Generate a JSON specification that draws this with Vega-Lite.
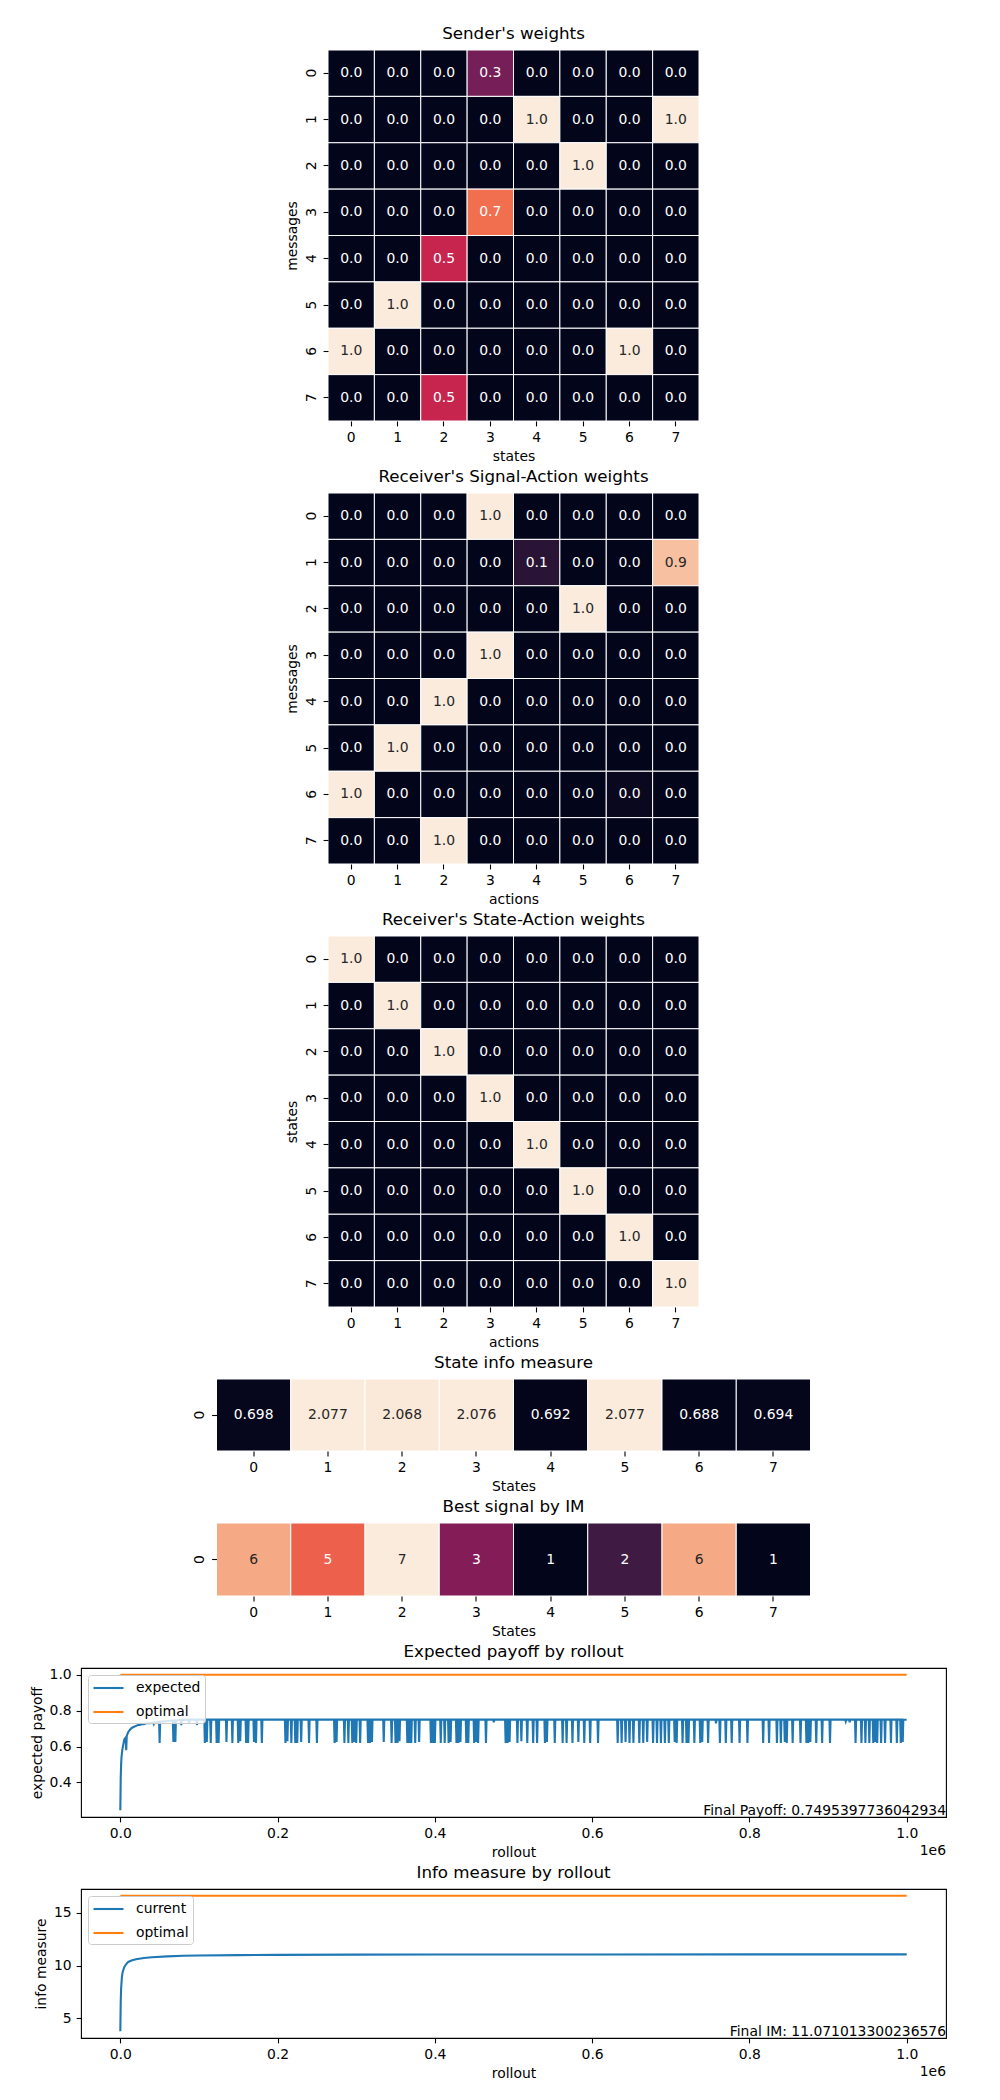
{
  "$schema": "https://vega.github.io/schema/vega-lite/v6.json",
  "autosize": {"type": "pad"},
  "padding": {"left": 29, "top": 25, "right": 5, "bottom": 5},
  "background": "white",
  "bounds": "flush",
  "center": true,
  "spacing": 72,
  "resolve": {"scale": {"color": "independent", "x": "independent", "y": "independent"}, "legend": {"color": "independent"}},
  "config": {
    "font": "DejaVu Sans",
    "view": {"stroke": null},
    "axis": {"labelFont": "DejaVu Sans", "titleFont": "DejaVu Sans", "labelFontSize": 13.9, "titleFontSize": 13.9, "titleFontWeight": "normal", "labelColor": "#000", "titleColor": "#000", "tickColor": "#000", "tickSize": 4.9, "tickWidth": 1.1, "labelPadding": 4.9, "titlePadding": 5, "domain": false, "grid": false},
    "title": {"font": "DejaVu Sans", "fontSize": 16.7, "fontWeight": "normal", "color": "#000", "offset": 7, "anchor": "middle", "frame": "group"},
    "legend": {"labelFont": "DejaVu Sans", "labelFontSize": 13.9, "labelColor": "#000"}
  },
  "datasets": {
    "sender": [
      {"m":0,"s":0,"v":0},{"m":0,"s":1,"v":0},{"m":0,"s":2,"v":0},{"m":0,"s":3,"v":0.3},{"m":0,"s":4,"v":0},{"m":0,"s":5,"v":0},{"m":0,"s":6,"v":0},{"m":0,"s":7,"v":0},
      {"m":1,"s":0,"v":0},{"m":1,"s":1,"v":0},{"m":1,"s":2,"v":0},{"m":1,"s":3,"v":0},{"m":1,"s":4,"v":1},{"m":1,"s":5,"v":0},{"m":1,"s":6,"v":0},{"m":1,"s":7,"v":1},
      {"m":2,"s":0,"v":0},{"m":2,"s":1,"v":0},{"m":2,"s":2,"v":0},{"m":2,"s":3,"v":0},{"m":2,"s":4,"v":0},{"m":2,"s":5,"v":1},{"m":2,"s":6,"v":0},{"m":2,"s":7,"v":0},
      {"m":3,"s":0,"v":0},{"m":3,"s":1,"v":0},{"m":3,"s":2,"v":0},{"m":3,"s":3,"v":0.7},{"m":3,"s":4,"v":0},{"m":3,"s":5,"v":0},{"m":3,"s":6,"v":0},{"m":3,"s":7,"v":0},
      {"m":4,"s":0,"v":0},{"m":4,"s":1,"v":0},{"m":4,"s":2,"v":0.5},{"m":4,"s":3,"v":0},{"m":4,"s":4,"v":0},{"m":4,"s":5,"v":0},{"m":4,"s":6,"v":0},{"m":4,"s":7,"v":0},
      {"m":5,"s":0,"v":0},{"m":5,"s":1,"v":1},{"m":5,"s":2,"v":0},{"m":5,"s":3,"v":0},{"m":5,"s":4,"v":0},{"m":5,"s":5,"v":0},{"m":5,"s":6,"v":0},{"m":5,"s":7,"v":0},
      {"m":6,"s":0,"v":1},{"m":6,"s":1,"v":0},{"m":6,"s":2,"v":0},{"m":6,"s":3,"v":0},{"m":6,"s":4,"v":0},{"m":6,"s":5,"v":0},{"m":6,"s":6,"v":1},{"m":6,"s":7,"v":0},
      {"m":7,"s":0,"v":0},{"m":7,"s":1,"v":0},{"m":7,"s":2,"v":0.5},{"m":7,"s":3,"v":0},{"m":7,"s":4,"v":0},{"m":7,"s":5,"v":0},{"m":7,"s":6,"v":0},{"m":7,"s":7,"v":0}
    ],
    "sigact": [
      {"m":0,"a":0,"v":0},{"m":0,"a":1,"v":0},{"m":0,"a":2,"v":0},{"m":0,"a":3,"v":1},{"m":0,"a":4,"v":0},{"m":0,"a":5,"v":0},{"m":0,"a":6,"v":0},{"m":0,"a":7,"v":0},
      {"m":1,"a":0,"v":0},{"m":1,"a":1,"v":0},{"m":1,"a":2,"v":0},{"m":1,"a":3,"v":0},{"m":1,"a":4,"v":0.11},{"m":1,"a":5,"v":0},{"m":1,"a":6,"v":0},{"m":1,"a":7,"v":0.89},
      {"m":2,"a":0,"v":0},{"m":2,"a":1,"v":0},{"m":2,"a":2,"v":0},{"m":2,"a":3,"v":0},{"m":2,"a":4,"v":0},{"m":2,"a":5,"v":1},{"m":2,"a":6,"v":0},{"m":2,"a":7,"v":0},
      {"m":3,"a":0,"v":0},{"m":3,"a":1,"v":0},{"m":3,"a":2,"v":0},{"m":3,"a":3,"v":1},{"m":3,"a":4,"v":0},{"m":3,"a":5,"v":0},{"m":3,"a":6,"v":0},{"m":3,"a":7,"v":0},
      {"m":4,"a":0,"v":0},{"m":4,"a":1,"v":0},{"m":4,"a":2,"v":1},{"m":4,"a":3,"v":0},{"m":4,"a":4,"v":0},{"m":4,"a":5,"v":0},{"m":4,"a":6,"v":0},{"m":4,"a":7,"v":0},
      {"m":5,"a":0,"v":0},{"m":5,"a":1,"v":1},{"m":5,"a":2,"v":0},{"m":5,"a":3,"v":0},{"m":5,"a":4,"v":0},{"m":5,"a":5,"v":0},{"m":5,"a":6,"v":0},{"m":5,"a":7,"v":0},
      {"m":6,"a":0,"v":1},{"m":6,"a":1,"v":0},{"m":6,"a":2,"v":0},{"m":6,"a":3,"v":0},{"m":6,"a":4,"v":0},{"m":6,"a":5,"v":0},{"m":6,"a":6,"v":0.02},{"m":6,"a":7,"v":0},
      {"m":7,"a":0,"v":0},{"m":7,"a":1,"v":0},{"m":7,"a":2,"v":1},{"m":7,"a":3,"v":0},{"m":7,"a":4,"v":0},{"m":7,"a":5,"v":0},{"m":7,"a":6,"v":0},{"m":7,"a":7,"v":0}
    ],
    "stact": [
      {"st":0,"a":0,"v":1},{"st":0,"a":1,"v":0},{"st":0,"a":2,"v":0},{"st":0,"a":3,"v":0},{"st":0,"a":4,"v":0},{"st":0,"a":5,"v":0},{"st":0,"a":6,"v":0},{"st":0,"a":7,"v":0},
      {"st":1,"a":0,"v":0},{"st":1,"a":1,"v":1},{"st":1,"a":2,"v":0},{"st":1,"a":3,"v":0},{"st":1,"a":4,"v":0},{"st":1,"a":5,"v":0},{"st":1,"a":6,"v":0},{"st":1,"a":7,"v":0},
      {"st":2,"a":0,"v":0},{"st":2,"a":1,"v":0},{"st":2,"a":2,"v":1},{"st":2,"a":3,"v":0},{"st":2,"a":4,"v":0},{"st":2,"a":5,"v":0},{"st":2,"a":6,"v":0},{"st":2,"a":7,"v":0},
      {"st":3,"a":0,"v":0},{"st":3,"a":1,"v":0},{"st":3,"a":2,"v":0},{"st":3,"a":3,"v":1},{"st":3,"a":4,"v":0},{"st":3,"a":5,"v":0},{"st":3,"a":6,"v":0},{"st":3,"a":7,"v":0},
      {"st":4,"a":0,"v":0},{"st":4,"a":1,"v":0},{"st":4,"a":2,"v":0},{"st":4,"a":3,"v":0},{"st":4,"a":4,"v":1},{"st":4,"a":5,"v":0},{"st":4,"a":6,"v":0},{"st":4,"a":7,"v":0},
      {"st":5,"a":0,"v":0},{"st":5,"a":1,"v":0},{"st":5,"a":2,"v":0},{"st":5,"a":3,"v":0},{"st":5,"a":4,"v":0},{"st":5,"a":5,"v":1},{"st":5,"a":6,"v":0},{"st":5,"a":7,"v":0},
      {"st":6,"a":0,"v":0},{"st":6,"a":1,"v":0},{"st":6,"a":2,"v":0},{"st":6,"a":3,"v":0},{"st":6,"a":4,"v":0},{"st":6,"a":5,"v":0},{"st":6,"a":6,"v":1},{"st":6,"a":7,"v":0},
      {"st":7,"a":0,"v":0},{"st":7,"a":1,"v":0},{"st":7,"a":2,"v":0},{"st":7,"a":3,"v":0},{"st":7,"a":4,"v":0},{"st":7,"a":5,"v":0},{"st":7,"a":6,"v":0},{"st":7,"a":7,"v":1}
    ],
    "stateinfo": [
      {"row":0,"state":0,"v":0.698},{"row":0,"state":1,"v":2.077},{"row":0,"state":2,"v":2.068},{"row":0,"state":3,"v":2.076},
      {"row":0,"state":4,"v":0.692},{"row":0,"state":5,"v":2.077},{"row":0,"state":6,"v":0.688},{"row":0,"state":7,"v":0.694}
    ],
    "bestsig": [
      {"row":0,"state":0,"v":6},{"row":0,"state":1,"v":5},{"row":0,"state":2,"v":7},{"row":0,"state":3,"v":3},
      {"row":0,"state":4,"v":1},{"row":0,"state":5,"v":2},{"row":0,"state":6,"v":6},{"row":0,"state":7,"v":1}
    ],
    "payoff": [
      {"r":0,"p":0.245},{"r":500,"p":0.42},{"r":1000,"p":0.5},{"r":1500,"p":0.54},{"r":2000,"p":0.56},{"r":2500,"p":0.58},{"r":5000,"p":0.64},{"r":6800,"p":0.65},{"r":7500,"p":0.58},{"r":8200,"p":0.66},{"r":10000,"p":0.68},{"r":12500,"p":0.695},{"r":15000,"p":0.705},{"r":17500,"p":0.71},{"r":20000,"p":0.715},{"r":22500,"p":0.72},{"r":25000,"p":0.72},{"r":27500,"p":0.725},{"r":30000,"p":0.725},{"r":32500,"p":0.73},{"r":35000,"p":0.73},{"r":37500,"p":0.73},{"r":40000,"p":0.732},{"r":41800,"p":0.732},{"r":42500,"p":0.725},{"r":43200,"p":0.733},{"r":45000,"p":0.735},{"r":47500,"p":0.738},{"r":49300,"p":0.739},{"r":50000,"p":0.62},{"r":50700,"p":0.74},{"r":55000,"p":0.74},{"r":60000,"p":0.742},{"r":65000,"p":0.745},{"r":66800,"p":0.745},{"r":67500,"p":0.625},{"r":68200,"p":0.745},{"r":69300,"p":0.745},{"r":70000,"p":0.625},{"r":70700,"p":0.745},{"r":75000,"p":0.748},{"r":76800,"p":0.748},{"r":77500,"p":0.72},{"r":78200,"p":0.748},{"r":85000,"p":0.75},{"r":86800,"p":0.75},{"r":87500,"p":0.73},{"r":88200,"p":0.75},{"r":96800,"p":0.75},{"r":97500,"p":0.72},{"r":98200,"p":0.75},
      {"r":106800,"p":0.75},{"r":107500,"p":0.62},{"r":108200,"p":0.75},
      {"r":109300,"p":0.75},{"r":110000,"p":0.625},{"r":110700,"p":0.75},
      {"r":114300,"p":0.75},{"r":115000,"p":0.62},{"r":115700,"p":0.75},
      {"r":121800,"p":0.75},{"r":122500,"p":0.62},{"r":123200,"p":0.75},
      {"r":124300,"p":0.75},{"r":125000,"p":0.62},{"r":125700,"p":0.75},
      {"r":134300,"p":0.75},{"r":135000,"p":0.625},{"r":135700,"p":0.75},
      {"r":141800,"p":0.75},{"r":142500,"p":0.62},{"r":143200,"p":0.75},
      {"r":149300,"p":0.75},{"r":150000,"p":0.62},{"r":150700,"p":0.75},
      {"r":151800,"p":0.75},{"r":152500,"p":0.63},{"r":153200,"p":0.75},
      {"r":159300,"p":0.75},{"r":160000,"p":0.62},{"r":160700,"p":0.75},
      {"r":161800,"p":0.75},{"r":162500,"p":0.62},{"r":163200,"p":0.75},
      {"r":169300,"p":0.75},{"r":170000,"p":0.625},{"r":170700,"p":0.75},
      {"r":171800,"p":0.75},{"r":172500,"p":0.62},{"r":173200,"p":0.75},
      {"r":179300,"p":0.75},{"r":180000,"p":0.62},{"r":180700,"p":0.75},
      {"r":209300,"p":0.75},{"r":210000,"p":0.62},{"r":210700,"p":0.75},
      {"r":211800,"p":0.75},{"r":212500,"p":0.63},{"r":213200,"p":0.75},
      {"r":216800,"p":0.75},{"r":217500,"p":0.62},{"r":218200,"p":0.75},
      {"r":221800,"p":0.75},{"r":222500,"p":0.62},{"r":223200,"p":0.75},
      {"r":224300,"p":0.75},{"r":225000,"p":0.62},{"r":225700,"p":0.75},
      {"r":229300,"p":0.75},{"r":230000,"p":0.625},{"r":230700,"p":0.75},
      {"r":239300,"p":0.75},{"r":240000,"p":0.62},{"r":240700,"p":0.75},
      {"r":249300,"p":0.75},{"r":250000,"p":0.62},{"r":250700,"p":0.75},
      {"r":271800,"p":0.75},{"r":272500,"p":0.62},{"r":273200,"p":0.75},
      {"r":274300,"p":0.75},{"r":275000,"p":0.625},{"r":275700,"p":0.75},
      {"r":284300,"p":0.75},{"r":285000,"p":0.62},{"r":285700,"p":0.75},
      {"r":289300,"p":0.75},{"r":290000,"p":0.62},{"r":290700,"p":0.75},
      {"r":294300,"p":0.75},{"r":295000,"p":0.62},{"r":295700,"p":0.75},
      {"r":296800,"p":0.75},{"r":297500,"p":0.625},{"r":298200,"p":0.75},
      {"r":299300,"p":0.75},{"r":300000,"p":0.62},{"r":300700,"p":0.75},
      {"r":304300,"p":0.75},{"r":305000,"p":0.62},{"r":305700,"p":0.75},
      {"r":314300,"p":0.75},{"r":315000,"p":0.62},{"r":315700,"p":0.75},
      {"r":316800,"p":0.75},{"r":317500,"p":0.62},{"r":318200,"p":0.75},
      {"r":319300,"p":0.75},{"r":320000,"p":0.625},{"r":320700,"p":0.75},
      {"r":334300,"p":0.75},{"r":335000,"p":0.625},{"r":335700,"p":0.75},
      {"r":344300,"p":0.75},{"r":345000,"p":0.62},{"r":345700,"p":0.75},
      {"r":349300,"p":0.75},{"r":350000,"p":0.62},{"r":350700,"p":0.75},
      {"r":351800,"p":0.75},{"r":352500,"p":0.62},{"r":353200,"p":0.75},
      {"r":354300,"p":0.75},{"r":355000,"p":0.63},{"r":355700,"p":0.75},
      {"r":364300,"p":0.75},{"r":365000,"p":0.62},{"r":365700,"p":0.75},
      {"r":366800,"p":0.75},{"r":367500,"p":0.62},{"r":368200,"p":0.75},
      {"r":369300,"p":0.75},{"r":370000,"p":0.62},{"r":370700,"p":0.75},
      {"r":374300,"p":0.75},{"r":375000,"p":0.62},{"r":375700,"p":0.75},
      {"r":379300,"p":0.75},{"r":380000,"p":0.625},{"r":380700,"p":0.75},
      {"r":394300,"p":0.75},{"r":395000,"p":0.62},{"r":395700,"p":0.75},
      {"r":396800,"p":0.75},{"r":397500,"p":0.62},{"r":398200,"p":0.75},
      {"r":399300,"p":0.75},{"r":400000,"p":0.62},{"r":400700,"p":0.75},
      {"r":406800,"p":0.75},{"r":407500,"p":0.62},{"r":408200,"p":0.75},
      {"r":411800,"p":0.75},{"r":412500,"p":0.62},{"r":413200,"p":0.75},
      {"r":416800,"p":0.75},{"r":417500,"p":0.62},{"r":418200,"p":0.75},
      {"r":419300,"p":0.75},{"r":420000,"p":0.625},{"r":420700,"p":0.75},
      {"r":426800,"p":0.75},{"r":427500,"p":0.62},{"r":428200,"p":0.75},
      {"r":429300,"p":0.75},{"r":430000,"p":0.62},{"r":430700,"p":0.75},
      {"r":431800,"p":0.75},{"r":432500,"p":0.625},{"r":433200,"p":0.75},
      {"r":439300,"p":0.75},{"r":440000,"p":0.62},{"r":440700,"p":0.75},
      {"r":441800,"p":0.75},{"r":442500,"p":0.62},{"r":443200,"p":0.75},
      {"r":449300,"p":0.75},{"r":450000,"p":0.62},{"r":450700,"p":0.75},
      {"r":451800,"p":0.75},{"r":452500,"p":0.625},{"r":453200,"p":0.75},
      {"r":454300,"p":0.75},{"r":455000,"p":0.62},{"r":455700,"p":0.75},
      {"r":464300,"p":0.75},{"r":465000,"p":0.62},{"r":465700,"p":0.75},
      {"r":474300,"p":0.75},{"r":475000,"p":0.735},{"r":475700,"p":0.75},
      {"r":489300,"p":0.75},{"r":490000,"p":0.62},{"r":490700,"p":0.75},
      {"r":491800,"p":0.75},{"r":492500,"p":0.62},{"r":493200,"p":0.75},
      {"r":494300,"p":0.75},{"r":495000,"p":0.625},{"r":495700,"p":0.75},
      {"r":504300,"p":0.75},{"r":505000,"p":0.62},{"r":505700,"p":0.75},
      {"r":509300,"p":0.75},{"r":510000,"p":0.63},{"r":510700,"p":0.75},
      {"r":516800,"p":0.75},{"r":517500,"p":0.62},{"r":518200,"p":0.75},
      {"r":524300,"p":0.75},{"r":525000,"p":0.62},{"r":525700,"p":0.75},
      {"r":529300,"p":0.75},{"r":530000,"p":0.62},{"r":530700,"p":0.75},
      {"r":539300,"p":0.75},{"r":540000,"p":0.62},{"r":540700,"p":0.75},
      {"r":541800,"p":0.75},{"r":542500,"p":0.625},{"r":543200,"p":0.75},
      {"r":551800,"p":0.75},{"r":552500,"p":0.62},{"r":553200,"p":0.75},
      {"r":561800,"p":0.75},{"r":562500,"p":0.62},{"r":563200,"p":0.75},
      {"r":566800,"p":0.75},{"r":567500,"p":0.62},{"r":568200,"p":0.75},
      {"r":574300,"p":0.75},{"r":575000,"p":0.62},{"r":575700,"p":0.75},
      {"r":581800,"p":0.75},{"r":582500,"p":0.625},{"r":583200,"p":0.75},
      {"r":589300,"p":0.75},{"r":590000,"p":0.62},{"r":590700,"p":0.75},
      {"r":596800,"p":0.75},{"r":597500,"p":0.62},{"r":598200,"p":0.75},
      {"r":606800,"p":0.75},{"r":607500,"p":0.62},{"r":608200,"p":0.75},
      {"r":631800,"p":0.75},{"r":632500,"p":0.62},{"r":633200,"p":0.75},
      {"r":636800,"p":0.75},{"r":637500,"p":0.62},{"r":638200,"p":0.75},
      {"r":641800,"p":0.75},{"r":642500,"p":0.625},{"r":643200,"p":0.75},
      {"r":646800,"p":0.75},{"r":647500,"p":0.62},{"r":648200,"p":0.75},
      {"r":651800,"p":0.75},{"r":652500,"p":0.62},{"r":653200,"p":0.75},
      {"r":659300,"p":0.75},{"r":660000,"p":0.62},{"r":660700,"p":0.75},
      {"r":664300,"p":0.75},{"r":665000,"p":0.62},{"r":665700,"p":0.75},
      {"r":669300,"p":0.75},{"r":670000,"p":0.625},{"r":670700,"p":0.75},
      {"r":676800,"p":0.75},{"r":677500,"p":0.62},{"r":678200,"p":0.75},
      {"r":681800,"p":0.75},{"r":682500,"p":0.62},{"r":683200,"p":0.75},
      {"r":686800,"p":0.75},{"r":687500,"p":0.62},{"r":688200,"p":0.75},
      {"r":691800,"p":0.75},{"r":692500,"p":0.62},{"r":693200,"p":0.75},
      {"r":696800,"p":0.75},{"r":697500,"p":0.62},{"r":698200,"p":0.75},
      {"r":704300,"p":0.75},{"r":705000,"p":0.625},{"r":705700,"p":0.75},
      {"r":706800,"p":0.75},{"r":707500,"p":0.62},{"r":708200,"p":0.75},
      {"r":714300,"p":0.75},{"r":715000,"p":0.62},{"r":715700,"p":0.75},
      {"r":719300,"p":0.75},{"r":720000,"p":0.62},{"r":720700,"p":0.75},
      {"r":721800,"p":0.75},{"r":722500,"p":0.62},{"r":723200,"p":0.75},
      {"r":729300,"p":0.75},{"r":730000,"p":0.62},{"r":730700,"p":0.75},
      {"r":736800,"p":0.75},{"r":737500,"p":0.62},{"r":738200,"p":0.75},
      {"r":739300,"p":0.75},{"r":740000,"p":0.625},{"r":740700,"p":0.75},
      {"r":746800,"p":0.75},{"r":747500,"p":0.62},{"r":748200,"p":0.75},
      {"r":756800,"p":0.75},{"r":757500,"p":0.73},{"r":758200,"p":0.75},
      {"r":761800,"p":0.75},{"r":762500,"p":0.62},{"r":763200,"p":0.75},
      {"r":769300,"p":0.75},{"r":770000,"p":0.62},{"r":770700,"p":0.75},
      {"r":776800,"p":0.75},{"r":777500,"p":0.62},{"r":778200,"p":0.75},
      {"r":786800,"p":0.75},{"r":787500,"p":0.62},{"r":788200,"p":0.75},
      {"r":796800,"p":0.75},{"r":797500,"p":0.62},{"r":798200,"p":0.75},
      {"r":816800,"p":0.75},{"r":817500,"p":0.62},{"r":818200,"p":0.75},
      {"r":824300,"p":0.75},{"r":825000,"p":0.62},{"r":825700,"p":0.75},
      {"r":834300,"p":0.75},{"r":835000,"p":0.62},{"r":835700,"p":0.75},
      {"r":839300,"p":0.75},{"r":840000,"p":0.62},{"r":840700,"p":0.75},
      {"r":844300,"p":0.75},{"r":845000,"p":0.625},{"r":845700,"p":0.75},
      {"r":846800,"p":0.75},{"r":847500,"p":0.62},{"r":848200,"p":0.75},
      {"r":854300,"p":0.75},{"r":855000,"p":0.62},{"r":855700,"p":0.75},
      {"r":864300,"p":0.75},{"r":865000,"p":0.62},{"r":865700,"p":0.75},
      {"r":871800,"p":0.75},{"r":872500,"p":0.62},{"r":873200,"p":0.75},
      {"r":874300,"p":0.75},{"r":875000,"p":0.62},{"r":875700,"p":0.75},
      {"r":876800,"p":0.75},{"r":877500,"p":0.625},{"r":878200,"p":0.75},
      {"r":884300,"p":0.75},{"r":885000,"p":0.62},{"r":885700,"p":0.75},
      {"r":891800,"p":0.75},{"r":892500,"p":0.62},{"r":893200,"p":0.75},
      {"r":901800,"p":0.75},{"r":902500,"p":0.62},{"r":903200,"p":0.75},
      {"r":921800,"p":0.75},{"r":922500,"p":0.74},{"r":923200,"p":0.75},
      {"r":926800,"p":0.75},{"r":927500,"p":0.735},{"r":928200,"p":0.75},
      {"r":934300,"p":0.75},{"r":935000,"p":0.62},{"r":935700,"p":0.75},
      {"r":941800,"p":0.75},{"r":942500,"p":0.62},{"r":943200,"p":0.75},
      {"r":946800,"p":0.75},{"r":947500,"p":0.62},{"r":948200,"p":0.75},
      {"r":951800,"p":0.75},{"r":952500,"p":0.62},{"r":953200,"p":0.75},
      {"r":956800,"p":0.75},{"r":957500,"p":0.62},{"r":958200,"p":0.75},
      {"r":959300,"p":0.75},{"r":960000,"p":0.625},{"r":960700,"p":0.75},
      {"r":961800,"p":0.75},{"r":962500,"p":0.62},{"r":963200,"p":0.75},
      {"r":966800,"p":0.75},{"r":967500,"p":0.62},{"r":968200,"p":0.75},
      {"r":971800,"p":0.75},{"r":972500,"p":0.62},{"r":973200,"p":0.75},
      {"r":979300,"p":0.75},{"r":980000,"p":0.62},{"r":980700,"p":0.75},
      {"r":986800,"p":0.75},{"r":987500,"p":0.62},{"r":988200,"p":0.75},
      {"r":991800,"p":0.75},{"r":992500,"p":0.62},{"r":993200,"p":0.75},
      {"r":994300,"p":0.75},{"r":995000,"p":0.625},{"r":995700,"p":0.75},
      {"r":1000000,"p":0.7495}
    ],
    "payoffopt": [{"r":0,"p":1.0},{"r":1000000,"p":1.0}],
    "info": [
      {"r":0,"im":3.76},{"r":500,"im":6.5},{"r":1000,"im":7.8},{"r":2000,"im":8.9},{"r":3000,"im":9.4},{"r":5000,"im":9.85},{"r":7500,"im":10.15},{"r":10000,"im":10.35},{"r":15000,"im":10.5},{"r":20000,"im":10.6},{"r":30000,"im":10.72},{"r":40000,"im":10.8},{"r":60000,"im":10.88},{"r":80000,"im":10.93},{"r":100000,"im":10.96},{"r":150000,"im":11.0},{"r":200000,"im":11.02},{"r":300000,"im":11.04},{"r":400000,"im":11.05},{"r":600000,"im":11.06},{"r":800000,"im":11.065},{"r":1000000,"im":11.071}
    ],
    "infoopt": [{"r":0,"im":16.636},{"r":1000000,"im":16.636}]
  },
  "vconcat": [
    {
      "width": 371, "height": 371,
      "title": "Sender's weights",
      "data": {"name": "sender"},
      "encoding": {
        "x": {"field": "s", "type": "ordinal", "title": "states", "scale": {"paddingInner": 0, "paddingOuter": 0}, "axis": {"labelAngle": 0}},
        "y": {"field": "m", "type": "ordinal", "title": "messages", "scale": {"paddingInner": 0, "paddingOuter": 0}, "axis": {"labelAngle": 270, "labelAlign": "center", "labelBaseline": "bottom"}}
      },
      "layer": [
        {"mark": {"type": "rect", "stroke": "white", "strokeWidth": 1},
         "encoding": {"color": {"field": "v", "type": "quantitative", "legend": null,
           "scale": {"domain": [0, 0.1429, 0.2857, 0.4286, 0.5714, 0.7143, 0.8571, 1], "range": ["#03051a","#35193e","#701f57","#ad1759","#e13342","#f37651","#f6b48f","#faebdd"], "interpolate": "rgb"}}}},
        {"mark": {"type": "text", "fontSize": 13.9, "font": "DejaVu Sans"},
         "encoding": {"text": {"field": "v", "type": "quantitative", "format": ".1f"},
           "color": {"condition": {"test": "datum.v > 0.75", "value": "#262626"}, "value": "#ffffff"}}}
      ]
    },
    {
      "width": 371, "height": 371,
      "title": "Receiver's Signal-Action weights",
      "data": {"name": "sigact"},
      "encoding": {
        "x": {"field": "a", "type": "ordinal", "title": "actions", "scale": {"paddingInner": 0, "paddingOuter": 0}, "axis": {"labelAngle": 0}},
        "y": {"field": "m", "type": "ordinal", "title": "messages", "scale": {"paddingInner": 0, "paddingOuter": 0}, "axis": {"labelAngle": 270, "labelAlign": "center", "labelBaseline": "bottom"}}
      },
      "layer": [
        {"mark": {"type": "rect", "stroke": "white", "strokeWidth": 1},
         "encoding": {"color": {"field": "v", "type": "quantitative", "legend": null,
           "scale": {"domain": [0, 0.1429, 0.2857, 0.4286, 0.5714, 0.7143, 0.8571, 1], "range": ["#03051a","#35193e","#701f57","#ad1759","#e13342","#f37651","#f6b48f","#faebdd"], "interpolate": "rgb"}}}},
        {"mark": {"type": "text", "fontSize": 13.9, "font": "DejaVu Sans"},
         "encoding": {"text": {"field": "v", "type": "quantitative", "format": ".1f"},
           "color": {"condition": {"test": "datum.v > 0.75", "value": "#262626"}, "value": "#ffffff"}}}
      ]
    },
    {
      "width": 371, "height": 371,
      "title": "Receiver's State-Action weights",
      "data": {"name": "stact"},
      "encoding": {
        "x": {"field": "a", "type": "ordinal", "title": "actions", "scale": {"paddingInner": 0, "paddingOuter": 0}, "axis": {"labelAngle": 0}},
        "y": {"field": "st", "type": "ordinal", "title": "states", "scale": {"paddingInner": 0, "paddingOuter": 0}, "axis": {"labelAngle": 270, "labelAlign": "center", "labelBaseline": "bottom"}}
      },
      "layer": [
        {"mark": {"type": "rect", "stroke": "white", "strokeWidth": 1},
         "encoding": {"color": {"field": "v", "type": "quantitative", "legend": null,
           "scale": {"domain": [0, 0.1429, 0.2857, 0.4286, 0.5714, 0.7143, 0.8571, 1], "range": ["#03051a","#35193e","#701f57","#ad1759","#e13342","#f37651","#f6b48f","#faebdd"], "interpolate": "rgb"}}}},
        {"mark": {"type": "text", "fontSize": 13.9, "font": "DejaVu Sans"},
         "encoding": {"text": {"field": "v", "type": "quantitative", "format": ".1f"},
           "color": {"condition": {"test": "datum.v > 0.75", "value": "#262626"}, "value": "#ffffff"}}}
      ]
    },
    {
      "width": 594, "height": 72,
      "title": "State info measure",
      "data": {"name": "stateinfo"},
      "encoding": {
        "x": {"field": "state", "type": "ordinal", "title": "States", "scale": {"paddingInner": 0, "paddingOuter": 0}, "axis": {"labelAngle": 0}},
        "y": {"field": "row", "type": "ordinal", "title": null, "scale": {"paddingInner": 0, "paddingOuter": 0}, "axis": {"labelAngle": 270, "labelAlign": "center", "labelBaseline": "bottom"}}
      },
      "layer": [
        {"mark": {"type": "rect", "stroke": "white", "strokeWidth": 1},
         "encoding": {"color": {"field": "v", "type": "quantitative", "legend": null,
           "scale": {"domain": [0.688, 0.8864, 1.0849, 1.2833, 1.4817, 1.6801, 1.8786, 2.077], "range": ["#03051a","#35193e","#701f57","#ad1759","#e13342","#f37651","#f6b48f","#faebdd"], "interpolate": "rgb"}}}},
        {"mark": {"type": "text", "fontSize": 13.9, "font": "DejaVu Sans"},
         "encoding": {"text": {"field": "v", "type": "quantitative", "format": ".3f"},
           "color": {"condition": {"test": "datum.v > 1.8", "value": "#262626"}, "value": "#ffffff"}}}
      ]
    },
    {
      "width": 594, "height": 73,
      "title": "Best signal by IM",
      "data": {"name": "bestsig"},
      "encoding": {
        "x": {"field": "state", "type": "ordinal", "title": "States", "scale": {"paddingInner": 0, "paddingOuter": 0}, "axis": {"labelAngle": 0}},
        "y": {"field": "row", "type": "ordinal", "title": null, "scale": {"paddingInner": 0, "paddingOuter": 0}, "axis": {"labelAngle": 270, "labelAlign": "center", "labelBaseline": "bottom"}}
      },
      "layer": [
        {"mark": {"type": "rect", "stroke": "white", "strokeWidth": 1},
         "encoding": {"color": {"field": "v", "type": "quantitative", "legend": null,
           "scale": {"domain": [1, 1.857, 2.714, 3.571, 4.429, 5.286, 6.143, 7], "range": ["#03051a","#35193e","#701f57","#ad1759","#e13342","#f37651","#f6b48f","#faebdd"], "interpolate": "rgb"}}}},
        {"mark": {"type": "text", "fontSize": 13.9, "font": "DejaVu Sans"},
         "encoding": {"text": {"field": "v", "type": "quantitative", "format": "d"},
           "color": {"condition": {"test": "datum.v >= 5.5", "value": "#262626"}, "value": "#ffffff"}}}
      ]
    },
    {
      "width": 865, "height": 149,
      "title": "Expected payoff by rollout",
      "view": {"stroke": "#000", "strokeWidth": 1.1},
      "layer": [
        {"data": {"name": "payoff"},
         "mark": {"type": "line", "strokeWidth": 2.1},
         "encoding": {
           "x": {"field": "r", "type": "quantitative", "title": "rollout", "scale": {"domain": [-50000, 1050000], "nice": false, "zero": false},
             "axis": {"values": [0, 200000, 400000, 600000, 800000, 1000000], "labelExpr": "format(datum.value / 1000000, '.1f')"}},
           "y": {"field": "p", "type": "quantitative", "title": "expected payoff", "scale": {"domain": [0.207, 1.038], "nice": false, "zero": false},
             "axis": {"values": [0.4, 0.6, 0.8, 1.0], "format": ".1f"}},
           "color": {"datum": "expected", "type": "nominal", "scale": {"domain": ["expected", "optimal"], "range": ["#1f77b4", "#ff7f0e"]},
             "legend": {"title": null, "orient": "top-left", "offset": 7, "symbolType": "M-1,0L3,0", "symbolSize": 225, "symbolStrokeWidth": 2.1, "labelOffset": 26, "rowPadding": 8, "padding": 4, "strokeColor": "#cccccc", "fillColor": "rgba(255,255,255,0.8)", "cornerRadius": 3}}
         }},
        {"data": {"name": "payoffopt"},
         "mark": {"type": "line", "strokeWidth": 2.1},
         "encoding": {
           "x": {"field": "r", "type": "quantitative"},
           "y": {"field": "p", "type": "quantitative"},
           "color": {"datum": "optimal", "type": "nominal"}
         }},
        {"data": {"values": [{"label": "Final Payoff: 0.7495397736042934"}]},
         "mark": {"type": "text", "align": "right", "baseline": "alphabetic", "fontSize": 13.9, "font": "DejaVu Sans", "color": "#000", "dy": -2},
         "encoding": {"x": {"datum": 1050000, "type": "quantitative"}, "y": {"datum": 0.207, "type": "quantitative"}, "text": {"field": "label"}}},
        {"data": {"values": [{"label": "1e6"}]},
         "mark": {"type": "text", "align": "right", "baseline": "top", "fontSize": 13.9, "font": "DejaVu Sans", "color": "#000", "dy": 27},
         "encoding": {"x": {"datum": 1050000, "type": "quantitative"}, "y": {"datum": 0.207, "type": "quantitative"}, "text": {"field": "label"}}}
      ]
    },
    {
      "width": 865, "height": 149,
      "title": "Info measure by rollout",
      "view": {"stroke": "#000", "strokeWidth": 1.1},
      "layer": [
        {"data": {"name": "info"},
         "mark": {"type": "line", "strokeWidth": 2.1},
         "encoding": {
           "x": {"field": "r", "type": "quantitative", "title": "rollout", "scale": {"domain": [-50000, 1050000], "nice": false, "zero": false},
             "axis": {"values": [0, 200000, 400000, 600000, 800000, 1000000], "labelExpr": "format(datum.value / 1000000, '.1f')"}},
           "y": {"field": "im", "type": "quantitative", "title": "info measure", "scale": {"domain": [3.12, 17.28], "nice": false, "zero": false},
             "axis": {"values": [5, 10, 15]}},
           "color": {"datum": "current", "type": "nominal", "scale": {"domain": ["current", "optimal"], "range": ["#1f77b4", "#ff7f0e"]},
             "legend": {"title": null, "orient": "top-left", "offset": 7, "symbolType": "M-1,0L3,0", "symbolSize": 225, "symbolStrokeWidth": 2.1, "labelOffset": 26, "rowPadding": 8, "padding": 4, "strokeColor": "#cccccc", "fillColor": "rgba(255,255,255,0.8)", "cornerRadius": 3}}
         }},
        {"data": {"name": "infoopt"},
         "mark": {"type": "line", "strokeWidth": 2.1},
         "encoding": {
           "x": {"field": "r", "type": "quantitative"},
           "y": {"field": "im", "type": "quantitative"},
           "color": {"datum": "optimal", "type": "nominal"}
         }},
        {"data": {"values": [{"label": "Final IM: 11.071013300236576"}]},
         "mark": {"type": "text", "align": "right", "baseline": "alphabetic", "fontSize": 13.9, "font": "DejaVu Sans", "color": "#000", "dy": -2},
         "encoding": {"x": {"datum": 1050000, "type": "quantitative"}, "y": {"datum": 3.12, "type": "quantitative"}, "text": {"field": "label"}}},
        {"data": {"values": [{"label": "1e6"}]},
         "mark": {"type": "text", "align": "right", "baseline": "top", "fontSize": 13.9, "font": "DejaVu Sans", "color": "#000", "dy": 27},
         "encoding": {"x": {"datum": 1050000, "type": "quantitative"}, "y": {"datum": 3.12, "type": "quantitative"}, "text": {"field": "label"}}}
      ]
    }
  ]
}
